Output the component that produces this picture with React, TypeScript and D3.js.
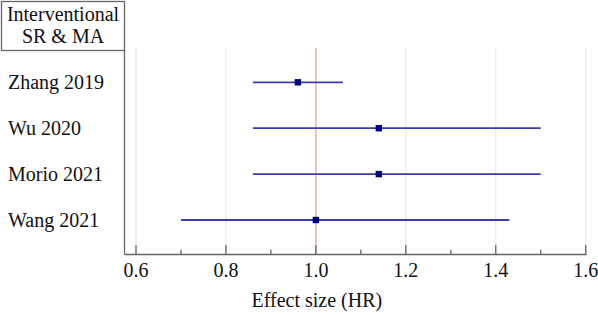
import React from "react";
import * as d3 from "d3";

const studies = ["Zhang 2019", "Wu 2020", "Morio 2021", "Wang 2021"];
const estimates = [0.96, 1.14, 1.14, 1.0];
const lowers = [0.86, 0.86, 0.86, 0.70];
const uppers = [1.06, 1.5, 1.5, 1.43];
const majorTicks = [0.6, 0.8, 1.0, 1.2, 1.4, 1.6];
const minorTicks = [0.7, 0.9, 1.1, 1.3, 1.5];
const headerLines = ["Interventional", "SR & MA"];
const xTitle = "Effect size (HR)";
const nullValue = 1.0;

export default function App() {
  const W = 598, H = 315;
  const x = d3.scaleLinear().domain([0.6, 1.6]).range([136, 585.7]);
  const y = d3.scalePoint<string>().domain(studies).range([82.3, 220]);
  const axisY = 254.5;
  const axisX = 124.5;
  const gridTop = 48;
  const font = "'Liberation Serif', 'Times New Roman', serif";
  return (
    <svg width={W} height={H} style={{ position: "absolute", left: 0, top: 0, background: "#fff" }} fontFamily={font}>
      {/* grid */}
      {majorTicks.map((t) => (
        <line key={"g" + t} x1={x(t)} x2={x(t)} y1={gridTop} y2={axisY} stroke="#e4e4e4" strokeWidth={1} />
      ))}
      {/* null line */}
      <line x1={x(nullValue)} x2={x(nullValue)} y1={gridTop} y2={axisY} stroke="#ff9f9f" strokeWidth={1.2} />
      {/* header box */}
      <rect x={1.5} y={1.5} width={axisX - 1.5} height={49} fill="none" stroke="#666" strokeWidth={1.3} />
      {headerLines.map((s, i) => (
        <text key={s} x={63} y={21 + i * 22} textAnchor="middle" fontSize={20} fill="#111">{s}</text>
      ))}
      {/* left axis */}
      <line x1={axisX} x2={axisX} y1={50.5} y2={axisY} stroke="#666" strokeWidth={1.3} />
      {/* bottom axis */}
      <line x1={axisX} x2={x(1.6) + 1} y1={axisY} y2={axisY} stroke="#666" strokeWidth={1.3} />
      {majorTicks.map((t) => (
        <g key={"t" + t}>
          <line x1={x(t)} x2={x(t)} y1={axisY - 9.5} y2={axisY} stroke="#666" strokeWidth={1.3} />
          <text x={x(t)} y={277} textAnchor="middle" fontSize={20} fill="#111">{d3.format(".1f")(t)}</text>
        </g>
      ))}
      {minorTicks.map((t) => (
        <line key={"m" + t} x1={x(t)} x2={x(t)} y1={axisY - 5} y2={axisY} stroke="#666" strokeWidth={1.3} />
      ))}
      <text x={x(1.0) + 1} y={307} textAnchor="middle" fontSize={20} fill="#111">{xTitle}</text>
      {/* studies */}
      {studies.map((s, i) => (
        <g key={s}>
          <text x={8} y={y(s)!} dominantBaseline="central" fontSize={20} fill="#111">{s}</text>
          <line x1={x(lowers[i])} x2={x(uppers[i])} y1={y(s)!} y2={y(s)!} stroke="#3b3bab" strokeWidth={1.8} />
          <rect x={x(estimates[i]) - 3.2} y={y(s)! - 3.2} width={6.4} height={6.4} fill="#00007a" />
        </g>
      ))}
    </svg>
  );
}
